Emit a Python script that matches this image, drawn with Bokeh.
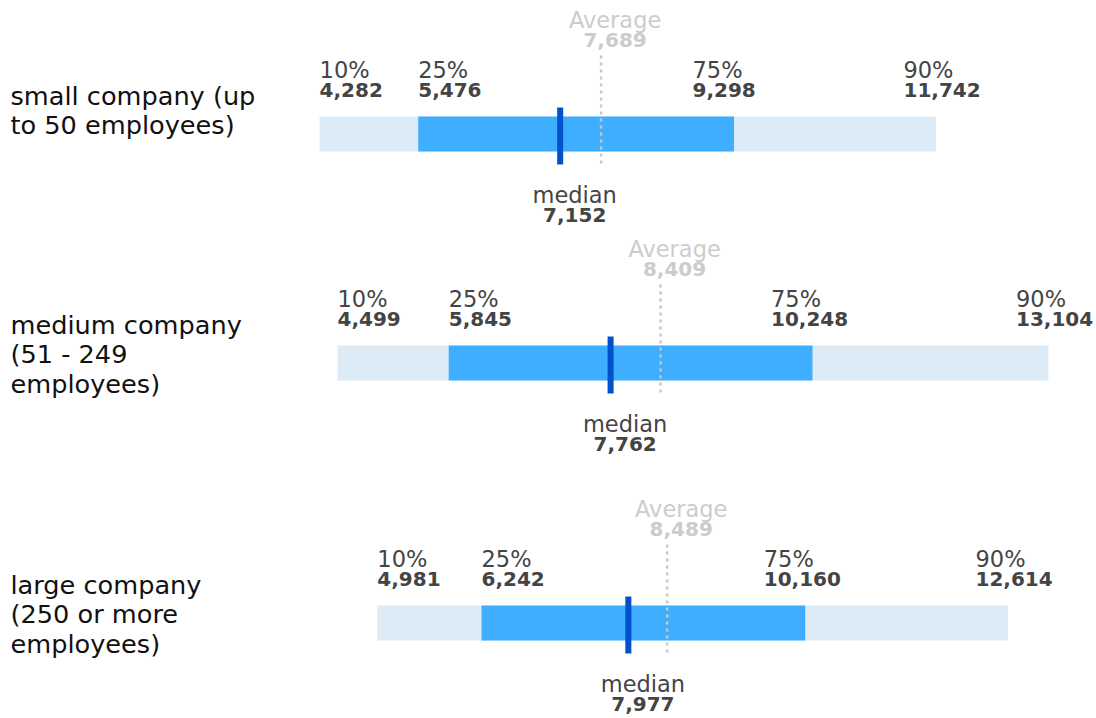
from bokeh.plotting import figure
from bokeh.models import ColumnDataSource, Range1d
from bokeh.embed import file_html
from bokeh.resources import INLINE
from bokeh.core.properties import value
from bokeh.transform import dodge

# ---- data ----
categories = ["small company (up\nto 50 employees)",
              "medium company\n(51 - 249\nemployees)",
              "large company\n(250 or more\nemployees)"]
p10 = [4282, 4499, 4981]
p25 = [5476, 5845, 6242]
median = [7152, 7762, 7977]
p75 = [9298, 10248, 10160]
p90 = [11742, 13104, 12614]
average = [7689, 8409, 8489]
pct_names = ["10%", "25%", "75%", "90%"]

# ---- layout (pixel rows; y range maps 1:1 to page pixels) ----
bar_top = [116, 345, 605]
BAR_H = 35
TXT_SHIFT = 8  # alphabetic text renders lower; compensate
PCT_XOFF = [0, 0, -41.5, -32.5]  # label x offsets (px) per percentile

FONT = value("DejaVu Sans")
LABEL_C = "#444444"
AVG_C = "#cccccc"

X0, X1 = 420.3, 13684.9
p = figure(width=1096, height=718, output_backend="svg", toolbar_location=None,
           x_range=Range1d(X0, X1), y_range=Range1d(718, 0),
           x_axis_location=None, y_axis_location=None, min_border=0)
p.grid.visible = False
p.outline_line_color = None
p.background_fill_color = "white"
p.border_fill_color = "white"

n = len(categories)
src = ColumnDataSource(dict(
    cat=categories, p10=p10, p25=p25, median=median, p75=p75, p90=p90, avg=average,
    yc=[t + BAR_H / 2 for t in bar_top],
    cat_y=[t - 36 for t in bar_top],
    avg_y0=[t - 61 for t in bar_top], avg_y1=[t + BAR_H + 14 for t in bar_top],
    med_top=[t - 9 for t in bar_top], med_bot=[t + BAR_H + 13 for t in bar_top],
    avg_lab_y=[t - 89 - TXT_SHIFT for t in bar_top], avg_val_y=[t - 69 - TXT_SHIFT for t in bar_top],
    med_lab_y=[t + BAR_H + 51 - TXT_SHIFT for t in bar_top],
    med_val_y=[t + BAR_H + 71 - TXT_SHIFT for t in bar_top],
    avg_txt=["Average"] * n, avg_val=[f"{v:,}" for v in average],
    med_txt=["median"] * n, med_val=[f"{v:,}" for v in median],
    cat_x=[X0] * n,
))

# bars
p.hbar(y="yc", left="p10", right="p90", height=BAR_H, source=src,
       fill_color="#DDEBF7", line_color=None)
p.hbar(y="yc", left="p25", right="p75", height=BAR_H, source=src,
       fill_color="#40AEFF", line_color=None)

# average dotted line
p.segment(x0="avg", x1="avg", y0="avg_y0", y1="avg_y1", source=src,
          line_color="#c8c8c8", line_width=2.5, line_dash="3 4")

# median line
p.vbar(x=dodge("median", 42), width=73, top="med_top", bottom="med_bot", source=src,
       fill_color="#0052CC", line_color=None)

# percentile labels
pl_x, pl_name, pl_val, pl_y1, pl_y2, pl_off = [], [], [], [], [], []
for i in range(n):
    for name, arr, off in zip(pct_names, [p10, p25, p75, p90], PCT_XOFF):
        pl_x.append(arr[i])
        pl_name.append(name)
        pl_val.append(f"{arr[i]:,}")
        pl_y1.append(bar_top[i] - 39 - TXT_SHIFT)
        pl_y2.append(bar_top[i] - 19 - TXT_SHIFT)
        pl_off.append(off)
psrc = ColumnDataSource(dict(x=pl_x, name=pl_name, val=pl_val, y1=pl_y1, y2=pl_y2, off=pl_off))
p.text(x="x", y="y1", text="name", source=psrc, x_offset="off", text_font=FONT,
       text_font_size="22.5px", text_color=LABEL_C, text_align="left", text_baseline="alphabetic")
p.text(x="x", y="y2", text="val", source=psrc, x_offset="off", text_font=FONT,
       text_font_size="20px", text_font_style="bold", text_color=LABEL_C, text_align="left",
       text_baseline="alphabetic")

# average labels
p.text(x="avg", y="avg_lab_y", text="avg_txt", source=src, x_offset=14, text_font=FONT,
       text_font_size="22.5px", text_color=AVG_C, text_align="center", text_baseline="alphabetic")
p.text(x="avg", y="avg_val_y", text="avg_val", source=src, x_offset=14, text_font=FONT,
       text_font_size="20px", text_font_style="bold", text_color=AVG_C, text_align="center",
       text_baseline="alphabetic")

# median labels
p.text(x="median", y="med_lab_y", text="med_txt", source=src, x_offset=18, text_font=FONT,
       text_font_size="22.5px", text_color=LABEL_C, text_align="center", text_baseline="alphabetic")
p.text(x="median", y="med_val_y", text="med_val", source=src, x_offset=18, text_font=FONT,
       text_font_size="20px", text_font_style="bold", text_color=LABEL_C, text_align="center",
       text_baseline="alphabetic")

# category labels
p.text(x="cat_x", y="cat_y", text="cat", source=src, x_offset=10, text_font=FONT,
       text_font_size="25.6px", text_color="#111111", text_align="left", text_baseline="top",
       text_line_height=0.99)

open("out.html", "w").write(file_html(p, INLINE))
